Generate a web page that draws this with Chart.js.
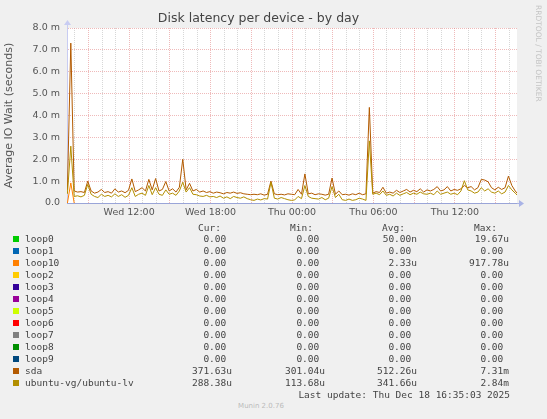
<!DOCTYPE html>
<html>
<head>
<meta charset="utf-8">
<script src="https://cdn.jsdelivr.net/npm/chart.js@4.4.0/dist/chart.umd.min.js"></script>
<style>
  html, body { margin: 0; padding: 0; background: #f0f0f0; }
  #wrap { position: relative; width: 547px; height: 419px; overflow: hidden; }
  #chart { position: absolute; left: 0; top: 0; }
  .lg { position: absolute; font-family: "DejaVu Sans Mono", monospace; font-size: 9.5px;
        line-height: 12px; color: #444; white-space: pre; }
  .sq { position: absolute; width: 6px; height: 6px; }
  #rrd { position: absolute; left: 534px; top: 5px; font-family: "DejaVu Sans", sans-serif; font-size: 7.5px;
         color: #c4c4c4; writing-mode: vertical-rl; white-space: nowrap; }
  #ver { position: absolute; left: 0; width: 522px; top: 402px; text-align: center;
         font-family: "DejaVu Sans", sans-serif; font-size: 7px; color: #bbb; }
</style>
</head>
<body>
<div id="wrap">
  <canvas id="chart" width="547" height="225"></canvas>
  <div id="rrd">RRDTOOL / TOBI OETIKER</div>
  <div id="ver">Munin 2.0.76</div>
</div>
<script>
// time axis: hours since Wed 00:00, one sample every 15 min
const startHour = 7.45;
const stepHours = 0.25;
const axisStart = 7.42;
const axisEnd = 40.58;

// values in milliseconds
const sdaMs = [
  0.60, 7.31, 0.55, 0.50, 0.52, 0.48, 1.00, 0.55, 0.45, 0.50,
  0.62, 0.48, 0.52, 0.45, 0.65, 0.50, 0.55, 0.47, 0.58, 1.10,
  0.52, 0.60, 0.70, 0.55, 1.08, 0.60, 1.12, 0.55, 0.62, 0.98,
  0.55, 0.65, 0.50, 0.72, 2.00, 0.60, 0.90, 0.55, 0.62, 0.50,
  0.55, 0.48, 0.52, 0.45, 0.50, 0.47, 0.42, 0.48, 0.45, 0.50,
  0.44, 0.47, 0.42, 0.40, 0.38, 0.40, 0.38, 0.42, 0.36, 0.40,
  1.00, 0.42, 0.38, 0.40, 0.37, 0.42, 0.40, 0.38, 0.62, 0.40,
  1.33, 0.42, 0.45, 0.38, 0.42, 0.40, 0.36, 0.40, 1.14, 0.40,
  0.55, 0.38, 0.40, 0.36, 0.42, 0.38, 0.45, 0.38, 0.42, 4.37,
  0.45, 0.52, 0.48, 0.72, 0.45, 0.50, 0.45, 0.58, 0.48, 0.55,
  0.62, 0.50, 0.58, 0.52, 0.65, 0.50, 0.60, 0.55, 0.62, 0.75,
  0.55, 0.60, 0.75, 0.55, 0.62, 0.58, 0.65, 0.80, 0.70, 0.75,
  0.60, 0.70, 1.08, 1.05, 0.97, 0.70, 0.60, 0.72, 0.62, 0.70,
  1.23, 0.80, 0.55, 0.37
];
const ubuntuMs = [
  0.42, 2.60, 0.30, 0.33, 0.28, 0.35, 0.85, 0.40, 0.30, 0.25,
  0.40, 0.30, 0.35, 0.28, 0.42, 0.30, 0.38, 0.26, 0.35, 0.70,
  0.30, 0.40, 0.45, 0.35, 0.80, 0.38, 0.70, 0.40, 0.35, 0.60,
  0.40, 0.45, 0.35, 0.55, 0.95, 0.50, 0.70, 0.40, 0.38, 0.32,
  0.30, 0.35, 0.28, 0.30, 0.25, 0.32, 0.22, 0.28, 0.20, 0.30,
  0.25, 0.22, 0.28, 0.20, 0.15, 0.12, 0.18, 0.14, 0.20, 0.18,
  0.95, 0.22, 0.18, 0.25, 0.20, 0.15, 0.12, 0.14, 0.30, 0.20,
  0.80, 0.30, 0.22, 0.20, 0.18, 0.25, 0.15, 0.22, 0.75, 0.25,
  0.40, 0.15, 0.12, 0.18, 0.12, 0.15, 0.22, 0.18, 0.12, 2.84,
  0.40, 0.45, 0.38, 0.55, 0.35, 0.40, 0.32, 0.45, 0.35, 0.42,
  0.48, 0.38, 0.45, 0.40, 0.50, 0.42, 0.40, 0.45, 0.38, 0.55,
  0.40, 0.45, 0.50, 0.40, 0.45, 0.38, 0.55, 1.02, 0.60, 0.55,
  0.45, 0.50, 0.70, 0.55, 0.65, 0.50, 0.45, 0.55, 0.42, 0.50,
  0.80, 0.60, 0.45, 0.29
];
// loop10 only leaves the zero line for one sample
const loop10Hours = [7.45, 7.70, 7.95];
const loop10Ms = [0, 0.918, 0];

const yGrid = [0, 0.5, 1, 1.5, 2, 2.5, 3, 3.5, 4, 4.5, 5, 5.5, 6, 6.5, 7, 7.5, 8];
const xGrid = [8, 9, 10, 11, 12, 13, 14, 15, 16, 17, 18, 19, 20, 21, 22, 23, 24,
               25, 26, 27, 28, 29, 30, 31, 32, 33, 34, 35, 36, 37, 38, 39, 40];
const xLabels = { 12: 'Wed 12:00', 18: 'Wed 18:00', 24: 'Thu 00:00', 30: 'Thu 06:00', 36: 'Thu 12:00' };

// legend table
const legendNames = ['loop0', 'loop1', 'loop10', 'loop2', 'loop3', 'loop4', 'loop5',
                     'loop6', 'loop7', 'loop8', 'loop9', 'sda', 'ubuntu-vg/ubuntu-lv'];
const legendColors = ['#00CC00', '#0066B3', '#FF8000', '#FFCC00', '#330099', '#990099', '#CCFF00',
                      '#FF0000', '#808080', '#008F00', '#00487D', '#B35A00', '#B38F00'];
const curVals = ['0.00 ', '0.00 ', '0.00 ', '0.00 ', '0.00 ', '0.00 ', '0.00 ', '0.00 ', '0.00 ', '0.00 ', '0.00 ', '371.63u', '288.38u'];
const minVals = ['0.00 ', '0.00 ', '0.00 ', '0.00 ', '0.00 ', '0.00 ', '0.00 ', '0.00 ', '0.00 ', '0.00 ', '0.00 ', '301.04u', '113.68u'];
const avgVals = ['50.00n', '0.00 ', '2.33u', '0.00 ', '0.00 ', '0.00 ', '0.00 ', '0.00 ', '0.00 ', '0.00 ', '0.00 ', '512.26u', '341.66u'];
const maxVals = ['19.67u', '0.00 ', '917.78u', '0.00 ', '0.00 ', '0.00 ', '0.00 ', '0.00 ', '0.00 ', '0.00 ', '0.00 ', '7.31m', '2.84m'];
const lastUpdate = 'Last update: Thu Dec 18 16:35:03 2025';

const majorGrid = 'rgba(225,130,130,0.55)';
const minorGrid = 'rgba(175,175,175,0.5)';

function toPoints(values) {
    return values.map((v, i) => ({ x: startHour + i * stepHours, y: v }));
}

const plotBg = {
    id: 'plotBg',
    beforeDraw(chart) {
        const a = chart.chartArea;
        const ctx = chart.ctx;
        ctx.save();
        ctx.fillStyle = '#ffffff';
        ctx.fillRect(a.left, a.top, a.right - a.left, a.bottom - a.top);
        ctx.restore();
    },
    afterDraw(chart) {
        // rrdtool style axis arrows
        const a = chart.chartArea;
        const ctx = chart.ctx;
        ctx.save();
        ctx.strokeStyle = '#c8ccf2';
        ctx.fillStyle = '#c8ccf2';
        ctx.beginPath();
        ctx.moveTo(a.left + 0.5, a.top);
        ctx.lineTo(a.left + 0.5, a.top - 5);
        ctx.stroke();
        ctx.beginPath();
        ctx.moveTo(a.left - 3, a.top - 3);
        ctx.lineTo(a.left + 4, a.top - 3);
        ctx.lineTo(a.left + 0.5, a.top - 8);
        ctx.fill();
        ctx.strokeStyle = '#a9b3e6';
        ctx.fillStyle = '#a9b3e6';
        ctx.beginPath();
        ctx.moveTo(a.right, a.bottom + 0.5);
        ctx.lineTo(a.right + 4, a.bottom + 0.5);
        ctx.stroke();
        ctx.beginPath();
        ctx.moveTo(a.right + 2, a.bottom - 3);
        ctx.lineTo(a.right + 2, a.bottom + 4);
        ctx.lineTo(a.right + 7, a.bottom + 0.5);
        ctx.fill();
        ctx.restore();
    }
};

Chart.defaults.font.family = 'DejaVu Sans';

new Chart(document.getElementById('chart'), {
    type: 'line',
    data: {
        datasets: [
            { label: 'ubuntu-vg/ubuntu-lv', data: toPoints(ubuntuMs), borderColor: '#B38F00', order: 0 },
            { label: 'sda', data: toPoints(sdaMs), borderColor: '#B35A00', order: 1 },
            { label: 'loop10', data: loop10Hours.map((h, i) => ({ x: h, y: loop10Ms[i] })), borderColor: '#FF8000', order: 2 }
        ]
    },
    options: {
        responsive: false,
        animation: false,
        elements: { line: { borderWidth: 1, tension: 0 }, point: { radius: 0 } },
        layout: { padding: { left: 0, right: 30, top: 0, bottom: 0 } },
        plugins: {
            legend: { display: false },
            tooltip: { enabled: false },
            title: {
                display: true,
                text: 'Disk latency per device - by day',
                color: '#444',
                font: { size: 12.5, weight: 'normal' },
                padding: { top: 11, bottom: 2 }
            }
        },
        scales: {
            x: {
                type: 'linear',
                min: axisStart,
                max: axisEnd,
                afterBuildTicks: s => { s.ticks = xGrid.map(v => ({ value: v })); },
                afterFit: s => { s.height = 22; },
                ticks: {
                    autoSkip: false,
                    maxRotation: 0,
                    padding: 4,
                    color: '#555',
                    font: { size: 9.5 },
                    callback: v => xLabels[v] || ''
                },
                grid: {
                    drawTicks: false,
                    color: c => (c.tick && c.tick.value % 3 === 0) ? majorGrid : minorGrid
                },
                border: { color: '#9aa5d8', dash: [1, 1], z: 1 }
            },
            y: {
                min: 0,
                max: 8,
                afterBuildTicks: s => { s.ticks = yGrid.map(v => ({ value: v })); },
                afterFit: s => { s.width = 67; },
                ticks: {
                    padding: 7,
                    color: '#555',
                    font: { size: 9.5 },
                    callback: v => Number.isInteger(v) ? (v === 0 ? '0.0' : v.toFixed(1) + ' m') : ''
                },
                grid: {
                    drawTicks: false,
                    color: c => (c.tick && Number.isInteger(c.tick.value)) ? majorGrid : minorGrid
                },
                border: { color: '#c8ccf2', dash: [1, 1] },
                title: {
                    display: true,
                    text: 'Average IO Wait (seconds)',
                    color: '#555',
                    font: { size: 11 },
                    padding: { top: 3, bottom: 0 }
                }
            }
        }
    },
    plugins: [plotBg]
});

// legend below the graph
const wrap = document.getElementById('wrap');
function addText(txt, left, right, top) {
    const d = document.createElement('div');
    d.className = 'lg';
    d.textContent = txt;
    d.style.top = top + 'px';
    if (right !== null) {
        d.style.right = (547 - right) + 'px';
    } else {
        d.style.left = left + 'px';
    }
    wrap.appendChild(d);
}
addText('Cur:', null, 221, 222);
addText('Min:', null, 313, 222);
addText('Avg:', null, 405, 222);
addText('Max:', null, 497, 222);
legendNames.forEach((name, i) => {
    const top = 233.3 + i * 12;
    const sq = document.createElement('div');
    sq.className = 'sq';
    sq.style.left = '13px';
    sq.style.top = (top + 3) + 'px';
    sq.style.background = legendColors[i];
    wrap.appendChild(sq);
    addText(name, 25, null, top);
    addText(curVals[i], null, 232, top);
    addText(minVals[i], null, 325, top);
    addText(avgVals[i], null, 417, top);
    addText(maxVals[i], null, 509, top);
});
addText(lastUpdate, null, 510, 389.3);
</script>
</body>
</html>
